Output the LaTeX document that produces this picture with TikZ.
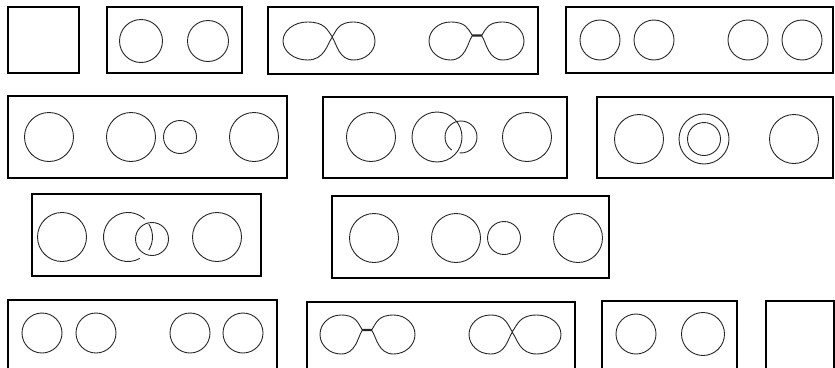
\documentclass[tikz,border=0pt]{standalone}
\newcommand{\feight}[7]{%
\pgfmathsetmacro\feCa{(#1+#2)/2}%
\pgfmathsetmacro\feWa{(#2-#1)/2}%
\pgfmathsetmacro\feCb{(#3+#4)/2}%
\pgfmathsetmacro\feWb{(#4-#3)/2}%
\pgfmathsetmacro\feCy{(#5+#6)/2}%
\pgfmathsetmacro\feH{(#6-#5)/2}%
\draw[ring] (#2,{#7-0.6})
 .. controls +({-0.2*\feWa},{-0.35*\feH}) and +({0.7*\feWa},0) .. (\feCa,#5)
 .. controls +({-0.55*\feWa},0) and +(0,{-0.55*\feH}) .. (#1,\feCy)
 .. controls +(0,{0.55*\feH}) and +({-0.55*\feWa},0) .. (\feCa,#6)
 .. controls +({0.7*\feWa},0) and +({-0.2*\feWa},{0.35*\feH}) .. (#2,{#7+0.6})
 -- (#3,{#7+0.6})
 .. controls +({0.2*\feWb},{0.35*\feH}) and +({-0.7*\feWb},0) .. (\feCb,#6)
 .. controls +({0.55*\feWb},0) and +(0,{0.55*\feH}) .. (#4,\feCy)
 .. controls +(0,{-0.55*\feH}) and +({0.55*\feWb},0) .. (\feCb,#5)
 .. controls +({-0.7*\feWb},0) and +({0.2*\feWb},{-0.35*\feH}) .. (#3,{#7-0.6})
 -- cycle;}
\begin{document}
\begin{tikzpicture}[x=1pt,y=-1pt,
  box/.style={draw=black,line width=1.5pt},
  ring/.style={draw=black!85,line width=0.9pt}]
\useasboundingbox (0,0) rectangle (835,367);
% row 1
\draw[box] (8,7) rectangle (79,73);
\draw[box] (107,7) rectangle (242,73);
\draw[ring] (141,41) circle[radius=21.5] (208,41) circle[radius=20.5];
\draw[box] (268,7) rectangle (538,74);
\feight{283}{332}{332.5}{375}{22}{60}{37}
\feight{429}{472}{482}{524}{22}{60}{35.5}
\draw[box] (566,7) rectangle (833,73);
\draw[ring] (600,40) circle[radius=20] (654,40) circle[radius=20]
  (748,40) circle[radius=20] (802,40) circle[radius=20];
% row 2
\draw[box] (8,96) rectangle (287,178);
\draw[ring] (49,137) circle[radius=24.5] (131,137) circle[radius=24.5]
  (180,137) circle[radius=16.5] (254,137) circle[radius=24.5];
\draw[box] (323,97) rectangle (567,178);
\draw[ring] (371,137) circle[radius=24.5] (437,137) circle[radius=25]
  (527,137) circle[radius=24.5];
\draw[ring] (461,137) ++(125:16) arc[start angle=125,end angle=455,radius=16];
\draw[box] (597,97) rectangle (833,178);
\draw[ring] (639,139) circle[radius=24.5] (704,139) circle[radius=25]
  (704,139) circle[radius=16.5] (794,139) circle[radius=24.5];
% row 3
\draw[box] (32,194) rectangle (261,276);
\draw[ring] (62,237) circle[radius=24.5] (152,239) circle[radius=16.5]
  (217,237) circle[radius=24.5];
\draw[ring] (128,237) ++(61:24.5) arc[start angle=61,end angle=313,radius=24.5];
\draw[ring] (128,237) ++(-32:24.5) arc[start angle=-32,end angle=32,radius=24.5];
\draw[box] (332,196) rectangle (609,278);
\draw[ring] (374,238) circle[radius=24.5] (456,238) circle[radius=24.5]
  (504,238) circle[radius=16.5] (578,238) circle[radius=24.5];
% row 4
\draw[box] (8,370) |- (277,300) -- (277,370);
\draw[ring] (42,333) circle[radius=20] (96,333) circle[radius=20]
  (190,333) circle[radius=20] (243,333) circle[radius=20];
\draw[box] (307,370) |- (575,302) -- (575,370);
\feight{320}{362}{372}{415}{315}{354}{330}
\feight{469}{512}{512.5}{561}{315}{354}{332}
\draw[box] (602,370) |- (737,301) -- (737,370);
\draw[ring] (636,334) circle[radius=20] (703,334) circle[radius=21.5];
\draw[box] (766,370) |- (834,301) -- (834,370);
\end{tikzpicture}
\end{document}
